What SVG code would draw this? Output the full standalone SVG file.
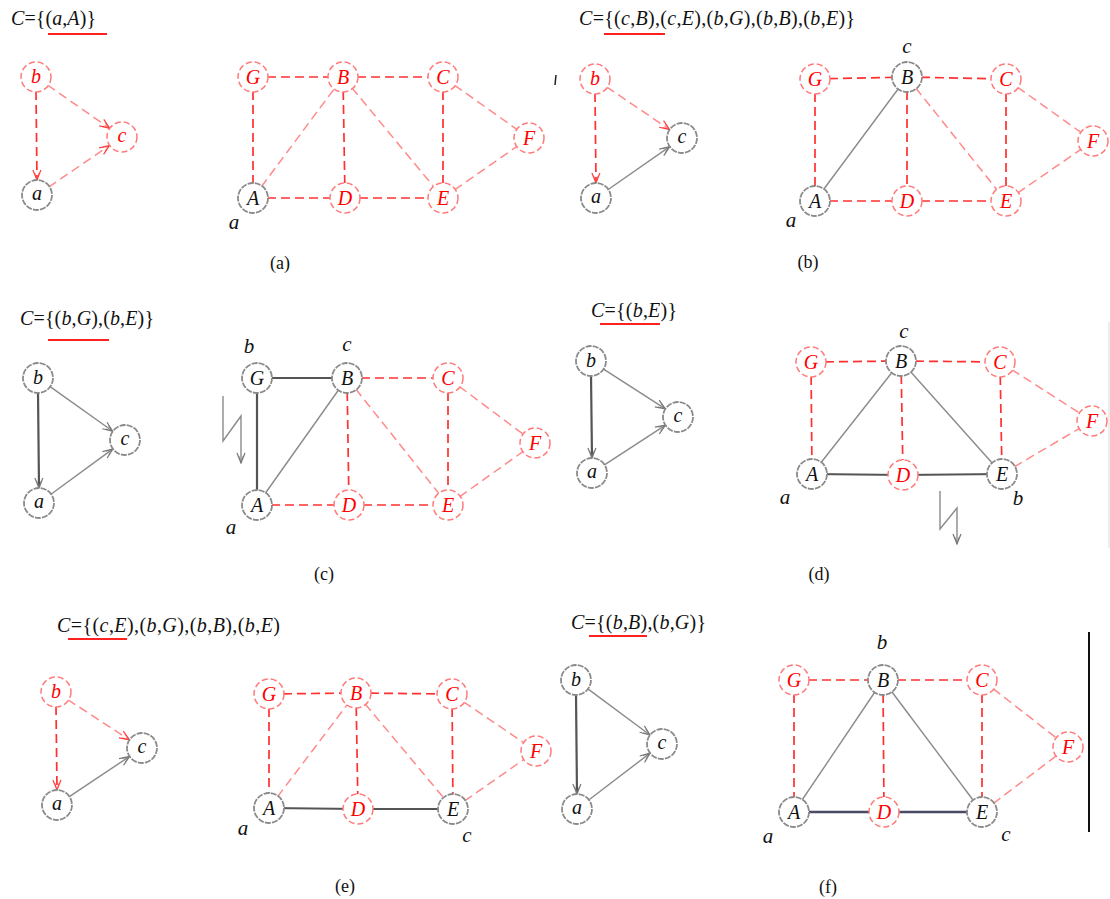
<svg xmlns="http://www.w3.org/2000/svg" width="1110" height="899" viewBox="0 0 1110 899">
<style>
text{font-family:"Liberation Serif","Times New Roman",serif}
.rd{fill:none;stroke:#ff3030;stroke-width:1.7;stroke-dasharray:9 5}
.rl{fill:none;stroke:#ff8a8a;stroke-width:1.5;stroke-dasharray:9 5}
.gs{fill:none;stroke:#8a8a8a;stroke-width:1.4}
.gd{fill:none;stroke:#555;stroke-width:2.2}
.gn{fill:none;stroke:#4a4a66;stroke-width:2.4}
.nk circle{fill:#fff;stroke:#8a8a8a;stroke-width:1.8;stroke-dasharray:6 1.2}
.nr circle{fill:#fff;stroke:#ff7a7a;stroke-width:1.5;stroke-dasharray:6 3}
.nk text{fill:#111}
.nr text{fill:#f00}
.nl{font-size:20px;font-style:italic;text-anchor:middle}
.lb{font-size:21px;font-style:italic;text-anchor:middle;fill:#111}
.cap{font-size:18px;text-anchor:middle;fill:#111}
.ti{font-size:20px;fill:#111}
.i{font-style:italic}
.ul{stroke:#ff2020;stroke-width:2}
</style>
<defs>
<marker id="ag" viewBox="0 0 12 10" refX="11" refY="5" markerWidth="12" markerHeight="10" markerUnits="userSpaceOnUse" orient="auto"><path d="M1,1 L11,5 L1,9 M4,2.6 L11,5 L4,7.4" fill="none" stroke="#777" stroke-width="1.2"/></marker>
<marker id="ar" viewBox="0 0 12 10" refX="11" refY="5" markerWidth="12" markerHeight="10" markerUnits="userSpaceOnUse" orient="auto"><path d="M1,1 L11,5 L1,9 M4,2.6 L11,5 L4,7.4" fill="none" stroke="#ff4040" stroke-width="1.2"/></marker>
</defs>

<g id="titles">
<text class="ti" x="11" y="25" textLength="85"><tspan class="i">C</tspan>={(<tspan class="i">a</tspan>,<tspan class="i">A</tspan>)}</text>
<line class="ul" x1="48" y1="34" x2="107" y2="34"/>
<text class="ti" x="579" y="25" textLength="276"><tspan class="i">C</tspan>={(<tspan class="i">c</tspan>,<tspan class="i">B</tspan>),(<tspan class="i">c</tspan>,<tspan class="i">E</tspan>),(<tspan class="i">b</tspan>,<tspan class="i">G</tspan>),(<tspan class="i">b</tspan>,<tspan class="i">B</tspan>),(<tspan class="i">b</tspan>,<tspan class="i">E</tspan>)}</text>
<line class="ul" x1="604" y1="34" x2="665" y2="34"/>
<text class="ti" x="20" y="325" textLength="134"><tspan class="i">C</tspan>={(<tspan class="i">b</tspan>,<tspan class="i">G</tspan>),(<tspan class="i">b</tspan>,<tspan class="i">E</tspan>)}</text>
<line class="ul" x1="48" y1="340" x2="109" y2="340"/>
<text class="ti" x="591" y="317" textLength="86"><tspan class="i">C</tspan>={(<tspan class="i">b</tspan>,<tspan class="i">E</tspan>)}</text>
<line class="ul" x1="600" y1="324" x2="660" y2="324"/>
<text class="ti" x="57" y="632" textLength="223"><tspan class="i">C</tspan>={(<tspan class="i">c</tspan>,<tspan class="i">E</tspan>),(<tspan class="i">b</tspan>,<tspan class="i">G</tspan>),(<tspan class="i">b</tspan>,<tspan class="i">B</tspan>),(<tspan class="i">b</tspan>,<tspan class="i">E</tspan>)</text>
<line class="ul" x1="68" y1="639" x2="127" y2="639"/>
<text class="ti" x="571" y="629" textLength="135"><tspan class="i">C</tspan>={(<tspan class="i">b</tspan>,<tspan class="i">B</tspan>),(<tspan class="i">b</tspan>,<tspan class="i">G</tspan>)}</text>
<line class="ul" x1="589" y1="636" x2="647" y2="636"/>
</g>

<g id="connectors">
<!-- panel a small -->
<line class="rd" x1="36" y1="91" x2="37" y2="180" marker-end="url(#ar)"/>
<line class="rl" x1="47.5" y1="85" x2="109.7" y2="128.4" marker-end="url(#ar)"/>
<line class="rl" x1="48.6" y1="187.1" x2="109.6" y2="145.5" marker-end="url(#ar)"/>
<!-- panel a big -->
<line class="rd" x1="253" y1="77" x2="343" y2="77"/>
<line class="rd" x1="343" y1="77" x2="443" y2="77"/>
<line class="rd" x1="253" y1="77" x2="253" y2="198"/>
<line class="rd" x1="343" y1="77" x2="345" y2="198"/>
<line class="rd" x1="443" y1="77" x2="443" y2="198"/>
<line class="rl" x1="253" y1="198" x2="343" y2="77"/>
<line class="rl" x1="343" y1="77" x2="443" y2="198"/>
<line class="rl" x1="443" y1="77" x2="529" y2="138"/>
<line class="rl" x1="443" y1="198" x2="529" y2="138"/>
<line class="rd" x1="253" y1="198" x2="345" y2="198"/>
<line class="rd" x1="345" y1="198" x2="443" y2="198"/>

<!-- panel b small -->
<line class="rd" x1="595" y1="93" x2="596" y2="183" marker-end="url(#ar)"/>
<line class="rl" x1="606.6" y1="86.9" x2="669.6" y2="129.5" marker-end="url(#ar)"/>
<line class="gs" x1="607.5" y1="190" x2="669.7" y2="146.6" marker-end="url(#ag)"/>
<!-- panel b big -->
<line class="rd" x1="815" y1="79" x2="907" y2="77"/>
<line class="rd" x1="907" y1="77" x2="1006" y2="79"/>
<line class="rd" x1="815" y1="79" x2="815" y2="201"/>
<line class="rd" x1="907" y1="77" x2="907" y2="201"/>
<line class="rd" x1="1006" y1="79" x2="1006" y2="201"/>
<line class="gs" x1="815" y1="201" x2="907" y2="77"/>
<line class="rl" x1="907" y1="77" x2="1006" y2="201"/>
<line class="rl" x1="1006" y1="79" x2="1093" y2="141"/>
<line class="rl" x1="1006" y1="201" x2="1093" y2="141"/>
<line class="rd" x1="815" y1="201" x2="907" y2="201"/>
<line class="rd" x1="907" y1="201" x2="1006" y2="201"/>

<!-- panel c small -->
<line class="gd" x1="38" y1="392" x2="39" y2="488" marker-end="url(#ag)"/>
<line class="gs" x1="49.4" y1="386.1" x2="112.8" y2="431.3" marker-end="url(#ag)"/>
<line class="gs" x1="50.3" y1="494.7" x2="112.9" y2="448.9" marker-end="url(#ag)"/>
<!-- panel c big -->
<line class="gd" x1="257" y1="378" x2="347" y2="378"/>
<line class="rd" x1="347" y1="378" x2="448" y2="378"/>
<line class="gd" x1="257" y1="378" x2="257" y2="505"/>
<line class="rd" x1="347" y1="378" x2="349" y2="505"/>
<line class="rd" x1="448" y1="378" x2="448" y2="505"/>
<line class="gs" x1="257" y1="505" x2="347" y2="378"/>
<line class="rl" x1="347" y1="378" x2="448" y2="505"/>
<line class="rl" x1="448" y1="378" x2="535" y2="443"/>
<line class="rl" x1="448" y1="505" x2="535" y2="443"/>
<line class="rd" x1="257" y1="505" x2="349" y2="505"/>
<line class="rd" x1="349" y1="505" x2="448" y2="505"/>
<polyline class="gs" points="223,396 223,441 241,416 241,463" marker-end="url(#ag)"/>

<!-- panel d small -->
<line class="gd" x1="591" y1="375" x2="592" y2="458" marker-end="url(#ag)"/>
<line class="gs" x1="602.8" y1="368.6" x2="665.4" y2="408.9" marker-end="url(#ag)"/>
<line class="gs" x1="603.7" y1="465.4" x2="665.5" y2="425.1" marker-end="url(#ag)"/>
<!-- panel d big -->
<line class="rd" x1="811" y1="362" x2="901" y2="361"/>
<line class="rd" x1="901" y1="361" x2="1000" y2="362"/>
<line class="rd" x1="811" y1="362" x2="812" y2="474"/>
<line class="rd" x1="901" y1="361" x2="903" y2="475"/>
<line class="rd" x1="1000" y1="362" x2="1002" y2="474"/>
<line class="gs" x1="812" y1="474" x2="901" y2="361"/>
<line class="gs" x1="901" y1="361" x2="1002" y2="474"/>
<line class="rl" x1="1000" y1="362" x2="1092" y2="421"/>
<line class="rl" x1="1002" y1="474" x2="1092" y2="421"/>
<line class="gd" x1="812" y1="474" x2="903" y2="475"/>
<line class="gd" x1="903" y1="475" x2="1002" y2="474"/>
<polyline class="gs" points="940,491 940,529 957,508 957,544" marker-end="url(#ag)"/>

<!-- panel e small -->
<line class="rd" x1="56" y1="706" x2="57" y2="790" marker-end="url(#ar)"/>
<line class="rl" x1="67.7" y1="699.6" x2="129.5" y2="739.9" marker-end="url(#ar)"/>
<line class="gs" x1="68.6" y1="797.2" x2="129.6" y2="756.4" marker-end="url(#ag)"/>
<!-- panel e big -->
<line class="rd" x1="269" y1="694" x2="356" y2="693"/>
<line class="rd" x1="356" y1="693" x2="452" y2="694"/>
<line class="rd" x1="269" y1="694" x2="269" y2="808"/>
<line class="rd" x1="356" y1="693" x2="358" y2="809"/>
<line class="rd" x1="452" y1="694" x2="453" y2="809"/>
<line class="rl" x1="269" y1="808" x2="356" y2="693"/>
<line class="rl" x1="356" y1="693" x2="453" y2="809"/>
<line class="rl" x1="452" y1="694" x2="536" y2="751"/>
<line class="rl" x1="453" y1="809" x2="536" y2="751"/>
<line class="gd" x1="269" y1="808" x2="358" y2="809"/>
<line class="gd" x1="358" y1="809" x2="453" y2="809"/>

<!-- panel f small -->
<line class="gd" x1="576" y1="694" x2="577" y2="794" marker-end="url(#ag)"/>
<line class="gs" x1="587.2" y1="688.4" x2="650" y2="735" marker-end="url(#ag)"/>
<line class="gs" x1="588.1" y1="800.5" x2="650.1" y2="753.1" marker-end="url(#ag)"/>
<!-- panel f big -->
<line class="rd" x1="794" y1="680" x2="883" y2="680"/>
<line class="rd" x1="883" y1="680" x2="982" y2="680"/>
<line class="rd" x1="794" y1="680" x2="794" y2="812"/>
<line class="rd" x1="883" y1="680" x2="884" y2="812"/>
<line class="rd" x1="982" y1="680" x2="982" y2="812"/>
<line class="gs" x1="794" y1="812" x2="883" y2="680"/>
<line class="gs" x1="883" y1="680" x2="982" y2="812"/>
<line class="rl" x1="982" y1="680" x2="1068" y2="747"/>
<line class="rl" x1="982" y1="812" x2="1068" y2="747"/>
<line class="gn" x1="794" y1="812" x2="884" y2="812"/>
<line class="gn" x1="884" y1="812" x2="982" y2="812"/>
</g>

<!-- panel a nodes -->
<g id="a-sb" class="nr"><circle cx="36" cy="77" r="15"/><text class="nl" x="36" y="83">b</text></g>
<g id="a-sc" class="nr"><circle cx="122" cy="137" r="15"/><text class="nl" x="122" y="142">c</text></g>
<g id="a-sa" class="nk"><circle cx="37" cy="195" r="15"/><text class="nl" x="37" y="200">a</text></g>
<g id="a-G" class="nr"><circle cx="253" cy="77" r="15"/><text class="nl" x="253" y="84">G</text></g>
<g id="a-B" class="nr"><circle cx="343" cy="77" r="15"/><text class="nl" x="343" y="84">B</text></g>
<g id="a-C" class="nr"><circle cx="443" cy="77" r="15"/><text class="nl" x="443" y="84">C</text></g>
<g id="a-F" class="nr"><circle cx="529" cy="138" r="15"/><text class="nl" x="529" y="145">F</text></g>
<g id="a-A" class="nk"><circle cx="253" cy="198" r="15"/><text class="nl" x="253" y="205">A</text></g>
<g id="a-D" class="nr"><circle cx="345" cy="198" r="15"/><text class="nl" x="345" y="205">D</text></g>
<g id="a-E" class="nr"><circle cx="443" cy="198" r="15"/><text class="nl" x="443" y="205">E</text></g>
<text class="lb" x="234" y="229">a</text>
<text class="cap" x="280" y="269">(a)</text>

<!-- panel b nodes -->
<line x1="556" y1="75" x2="555" y2="85" stroke="#222" stroke-width="1.5"/>
<g id="b-sb" class="nr"><circle cx="595" cy="79" r="15"/><text class="nl" x="595" y="85">b</text></g>
<g id="b-sc" class="nk"><circle cx="682" cy="138" r="15"/><text class="nl" x="682" y="143">c</text></g>
<g id="b-sa" class="nk"><circle cx="596" cy="198" r="15"/><text class="nl" x="596" y="203">a</text></g>
<g id="b-G" class="nr"><circle cx="815" cy="79" r="15"/><text class="nl" x="815" y="86">G</text></g>
<g id="b-B" class="nk"><circle cx="907" cy="77" r="15"/><text class="nl" x="907" y="84">B</text></g>
<g id="b-C" class="nr"><circle cx="1006" cy="79" r="15"/><text class="nl" x="1006" y="86">C</text></g>
<g id="b-F" class="nr"><circle cx="1093" cy="141" r="15"/><text class="nl" x="1093" y="148">F</text></g>
<g id="b-A" class="nk"><circle cx="815" cy="201" r="15"/><text class="nl" x="815" y="208">A</text></g>
<g id="b-D" class="nr"><circle cx="907" cy="201" r="15"/><text class="nl" x="907" y="208">D</text></g>
<g id="b-E" class="nr"><circle cx="1006" cy="201" r="15"/><text class="nl" x="1006" y="208">E</text></g>
<text class="lb" x="907" y="53">c</text>
<text class="lb" x="791" y="227">a</text>
<text class="cap" x="808" y="268">(b)</text>

<!-- panel c nodes -->
<g id="c-sb" class="nk"><circle cx="38" cy="378" r="15"/><text class="nl" x="38" y="384">b</text></g>
<g id="c-sc" class="nk"><circle cx="125" cy="440" r="15"/><text class="nl" x="125" y="445">c</text></g>
<g id="c-sa" class="nk"><circle cx="39" cy="503" r="15"/><text class="nl" x="39" y="508">a</text></g>
<g id="c-G" class="nk"><circle cx="257" cy="378" r="15"/><text class="nl" x="257" y="385">G</text></g>
<g id="c-B" class="nk"><circle cx="347" cy="378" r="15"/><text class="nl" x="347" y="385">B</text></g>
<g id="c-C" class="nr"><circle cx="448" cy="378" r="15"/><text class="nl" x="448" y="385">C</text></g>
<g id="c-F" class="nr"><circle cx="535" cy="443" r="15"/><text class="nl" x="535" y="450">F</text></g>
<g id="c-A" class="nk"><circle cx="257" cy="505" r="15"/><text class="nl" x="257" y="512">A</text></g>
<g id="c-D" class="nr"><circle cx="349" cy="505" r="15"/><text class="nl" x="349" y="512">D</text></g>
<g id="c-E" class="nr"><circle cx="448" cy="505" r="15"/><text class="nl" x="448" y="512">E</text></g>
<text class="lb" x="249" y="353">b</text>
<text class="lb" x="347" y="351">c</text>
<text class="lb" x="231" y="534">a</text>
<text class="cap" x="324" y="580">(c)</text>

<!-- panel d nodes -->
<g id="d-sb" class="nk"><circle cx="591" cy="361" r="15"/><text class="nl" x="591" y="367">b</text></g>
<g id="d-sc" class="nk"><circle cx="678" cy="417" r="15"/><text class="nl" x="678" y="422">c</text></g>
<g id="d-sa" class="nk"><circle cx="592" cy="473" r="15"/><text class="nl" x="592" y="478">a</text></g>
<g id="d-G" class="nr"><circle cx="811" cy="362" r="15"/><text class="nl" x="811" y="369">G</text></g>
<g id="d-B" class="nk"><circle cx="901" cy="361" r="15"/><text class="nl" x="901" y="368">B</text></g>
<g id="d-C" class="nr"><circle cx="1000" cy="362" r="15"/><text class="nl" x="1000" y="369">C</text></g>
<g id="d-F" class="nr"><circle cx="1092" cy="421" r="15"/><text class="nl" x="1092" y="428">F</text></g>
<g id="d-A" class="nk"><circle cx="812" cy="474" r="15"/><text class="nl" x="812" y="481">A</text></g>
<g id="d-D" class="nr"><circle cx="903" cy="475" r="15"/><text class="nl" x="903" y="482">D</text></g>
<g id="d-E" class="nk"><circle cx="1002" cy="474" r="15"/><text class="nl" x="1002" y="481">E</text></g>
<text class="lb" x="904" y="338">c</text>
<text class="lb" x="785" y="504">a</text>
<text class="lb" x="1018" y="505">b</text>
<line x1="1109" y1="322" x2="1109" y2="548" stroke="#ddd" stroke-width="1"/>
<text class="cap" x="819" y="580">(d)</text>

<!-- panel e nodes -->
<g id="e-sb" class="nr"><circle cx="56" cy="692" r="15"/><text class="nl" x="56" y="698">b</text></g>
<g id="e-sc" class="nk"><circle cx="142" cy="748" r="15"/><text class="nl" x="142" y="753">c</text></g>
<g id="e-sa" class="nk"><circle cx="57" cy="805" r="15"/><text class="nl" x="57" y="810">a</text></g>
<g id="e-G" class="nr"><circle cx="269" cy="694" r="15"/><text class="nl" x="269" y="701">G</text></g>
<g id="e-B" class="nr"><circle cx="356" cy="693" r="15"/><text class="nl" x="356" y="700">B</text></g>
<g id="e-C" class="nr"><circle cx="452" cy="694" r="15"/><text class="nl" x="452" y="701">C</text></g>
<g id="e-F" class="nr"><circle cx="536" cy="751" r="15"/><text class="nl" x="536" y="758">F</text></g>
<g id="e-A" class="nk"><circle cx="269" cy="808" r="15"/><text class="nl" x="269" y="815">A</text></g>
<g id="e-D" class="nr"><circle cx="358" cy="809" r="15"/><text class="nl" x="358" y="816">D</text></g>
<g id="e-E" class="nk"><circle cx="453" cy="809" r="15"/><text class="nl" x="453" y="816">E</text></g>
<text class="lb" x="243" y="835">a</text>
<text class="lb" x="467" y="842">c</text>
<text class="cap" x="345" y="892">(e)</text>

<!-- panel f nodes -->
<g id="f-sb" class="nk"><circle cx="576" cy="680" r="15"/><text class="nl" x="576" y="686">b</text></g>
<g id="f-sc" class="nk"><circle cx="662" cy="744" r="15"/><text class="nl" x="662" y="749">c</text></g>
<g id="f-sa" class="nk"><circle cx="577" cy="809" r="15"/><text class="nl" x="577" y="814">a</text></g>
<g id="f-G" class="nr"><circle cx="794" cy="680" r="15"/><text class="nl" x="794" y="687">G</text></g>
<g id="f-B" class="nk"><circle cx="883" cy="680" r="15"/><text class="nl" x="883" y="687">B</text></g>
<g id="f-C" class="nr"><circle cx="982" cy="680" r="15"/><text class="nl" x="982" y="687">C</text></g>
<g id="f-F" class="nr"><circle cx="1068" cy="747" r="15"/><text class="nl" x="1068" y="754">F</text></g>
<g id="f-A" class="nk"><circle cx="794" cy="812" r="15"/><text class="nl" x="794" y="819">A</text></g>
<g id="f-D" class="nr"><circle cx="884" cy="812" r="15"/><text class="nl" x="884" y="819">D</text></g>
<g id="f-E" class="nk"><circle cx="982" cy="812" r="15"/><text class="nl" x="982" y="819">E</text></g>
<text class="lb" x="882" y="649">b</text>
<text class="lb" x="768" y="843">a</text>
<text class="lb" x="1006" y="841">c</text>
<line x1="1089" y1="632" x2="1089" y2="832" stroke="#111" stroke-width="2"/>
<text class="cap" x="828" y="893">(f)</text>
</svg>
